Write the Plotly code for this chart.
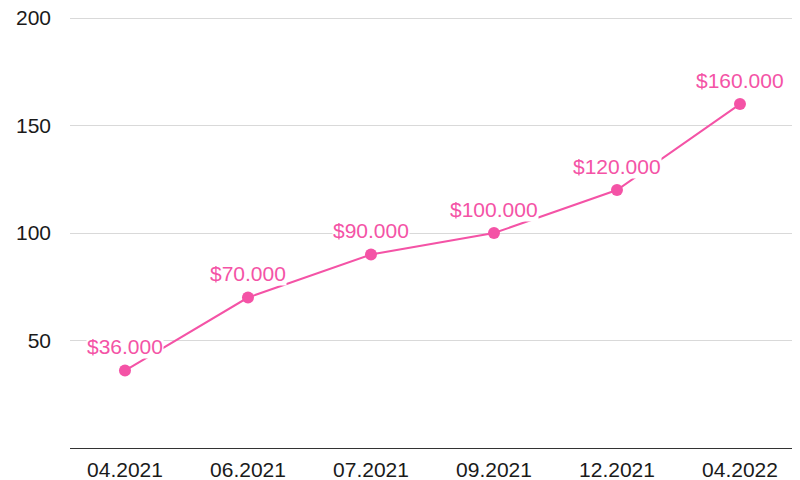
import plotly.graph_objects as go

categories = ["04.2021", "06.2021", "07.2021", "09.2021", "12.2021", "04.2022"]
values = [36, 70, 90, 100, 120, 160]
labels = ["$36.000", "$70.000", "$90.000", "$100.000", "$120.000", "$160.000"]
y_ticks = [50, 100, 150, 200]

pink = "#F453A6"
font_family = "Liberation Sans, Arial, sans-serif"

fig = go.Figure()
fig.add_trace(go.Scatter(
    x=categories, y=values, mode="lines+markers",
    line=dict(color=pink, width=2),
    marker=dict(color=pink, size=12),
    hoverinfo="skip", showlegend=False,
))

for i, (v, t) in enumerate(zip(values, labels)):
    fig.add_annotation(
        x=i, y=v, text=t, showarrow=False, yshift=24,
        font=dict(color=pink, size=21, family=font_family),
        bgcolor="white", borderpad=0,
    )

fig.update_layout(
    width=800, height=480,
    margin=dict(l=62, r=0, t=9, b=40),
    paper_bgcolor="white", plot_bgcolor="white",
    font=dict(family=font_family, size=21, color="#1a1a1a"),
)
fig.update_xaxes(
    type="category", range=[-0.447, 5.553],
    showgrid=False, showline=True, linecolor="#333333", linewidth=1,
    ticks="", tickfont=dict(size=21, color="#1a1a1a"),
    ticklabelstandoff=3, ticklabeloverflow="allow",
    zeroline=False, automargin=False,
)
fig.update_yaxes(
    range=[0, 200.5], tickvals=y_ticks,
    showgrid=True, gridcolor="#d9d9d9", gridwidth=1,
    zeroline=False, showline=False, ticks="",
    ticklabelstandoff=18, automargin=False, ticklabeloverflow="allow",
    tickfont=dict(size=21, color="#1a1a1a"),
)

fig.write_html("out.html")
